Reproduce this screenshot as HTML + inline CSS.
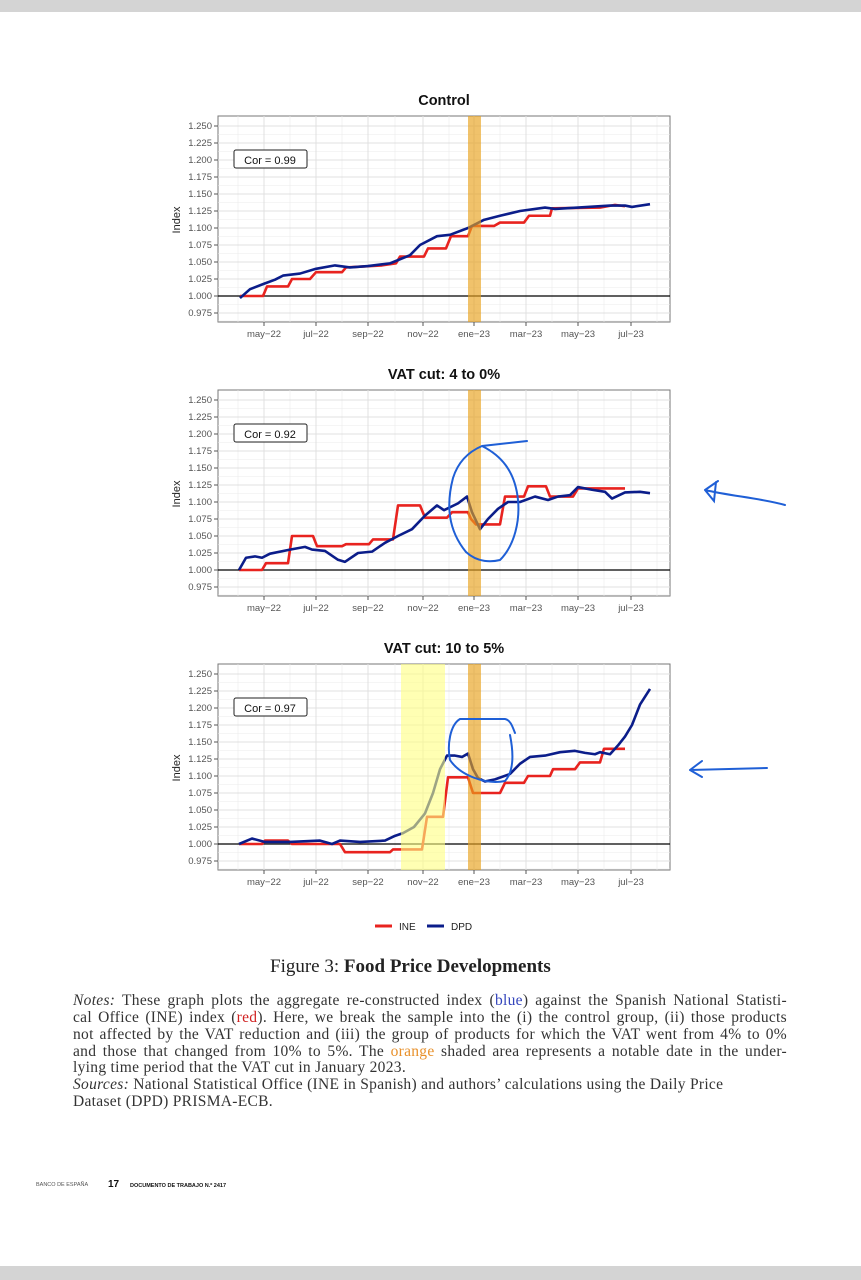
<!DOCTYPE html>
<html><head><meta charset="utf-8"><style>
body{margin:0;width:861px;height:1280px;background:#fff;position:relative;overflow:hidden;font-family:"Liberation Sans",sans-serif}
.n{position:absolute;left:73px;width:714px;font-family:"Liberation Serif",serif;font-size:15.5px;letter-spacing:0.3px;color:#333;line-height:16px;white-space:nowrap}
.j{text-align:justify;text-align-last:justify}
</style></head><body>
<div style="position:absolute;left:0;top:0;width:861px;height:12px;background:#d4d4d4"></div>
<div style="position:absolute;left:0;top:1266px;width:861px;height:14px;background:#d4d4d4"></div>
<svg width="861" height="1280" style="position:absolute;left:0;top:0" font-family="Liberation Sans, sans-serif">
<defs>
<g id="grid">
<rect x="218" y="116" width="452" height="206" fill="#fff" stroke="#777" stroke-width="1"/>
<g stroke="#ececec" stroke-width="0.6">
<path d="M218 134.5H670M218 151.5H670M218 168.5H670M218 185.5H670M218 202.5H670M218 219.5H670M218 236.5H670M218 253.5H670M218 270.5H670M218 287.5H670M218 304.5H670M218 321H670"/>
<path d="M238 116V322M290 116V322M342 116V322M395 116V322M449 116V322M500 116V322M552 116V322M604 116V322M657 116V322"/>
</g>
<g stroke="#e0e0e0" stroke-width="1">
<path d="M218 126H670M218 143H670M218 160H670M218 177H670M218 194H670M218 211H670M218 228H670M218 245H670M218 262H670M218 279H670M218 313H670"/>
<path d="M264 116V322M316 116V322M368 116V322M423 116V322M474 116V322M526 116V322M578 116V322M631 116V322"/>
</g>
<g stroke="#555" stroke-width="1"><path d="M214 126H218M214 143H218M214 160H218M214 177H218M214 194H218M214 211H218M214 228H218M214 245H218M214 262H218M214 279H218M214 296H218M214 313H218M264 322V326M316 322V326M368 322V326M423 322V326M474 322V326M526 322V326M578 322V326M631 322V326"/></g>
<g font-size="9.5" fill="#555" text-anchor="end">
<text x="212" y="129">1.250</text><text x="212" y="146">1.225</text><text x="212" y="163">1.200</text><text x="212" y="180">1.175</text><text x="212" y="197">1.150</text><text x="212" y="214">1.125</text><text x="212" y="231">1.100</text><text x="212" y="248">1.075</text><text x="212" y="265">1.050</text><text x="212" y="282">1.025</text><text x="212" y="299">1.000</text><text x="212" y="316">0.975</text>
</g>
<g font-size="9.5" fill="#555" text-anchor="middle">
<text x="264" y="337">may−22</text><text x="316" y="337">jul−22</text><text x="368" y="337">sep−22</text><text x="423" y="337">nov−22</text><text x="474" y="337">ene−23</text><text x="526" y="337">mar−23</text><text x="578" y="337">may−23</text><text x="631" y="337">jul−23</text>
</g>
<text transform="translate(180,220) rotate(-90)" font-size="11" fill="#222" text-anchor="middle">Index</text>
<line x1="218" y1="296" x2="670" y2="296" stroke="#000" stroke-width="1.3"/>
</g>
</defs>

<use href="#grid"/>
<text x="444" y="105" font-size="14.5" font-weight="bold" text-anchor="middle" fill="#111">Control</text>
<rect x="234" y="150" width="73" height="18" rx="2" fill="#fff" stroke="#222"/>
<text x="270" y="164" font-size="11" text-anchor="middle" fill="#111">Cor = 0.99</text>
<g transform="translate(0,296) scale(1,-680)" fill="none" stroke-linejoin="round">
<polyline vector-effect="non-scaling-stroke" stroke="#e8231f" stroke-width="2.6" points="240,0 263,0 267,0.014 288,0.014 292,0.025 310,0.025 316,0.035 342,0.035 346,0.042 382,0.045 396,0.048 400,0.058 424,0.058 428,0.07 446,0.07 451,0.088 468,0.088 472,0.103 494,0.103 500,0.108 524,0.108 529,0.118 550,0.118 552,0.129 600,0.13 615,0.134 625,0.132"/>
<polyline vector-effect="non-scaling-stroke" stroke="#0b1d8a" stroke-width="2.6" points="240,-0.003 250,0.01 264,0.018 275,0.024 283,0.03 300,0.033 316,0.04 335,0.045 350,0.042 368,0.044 390,0.048 410,0.06 420,0.075 437,0.088 450,0.09 468,0.1 484,0.112 500,0.118 520,0.125 545,0.13 555,0.128 578,0.13 610,0.133 625,0.133 632,0.131 650,0.135"/>
</g>
<rect x="468" y="116" width="13" height="206" fill="#e8a21c" opacity="0.65"/>

<use href="#grid" y="274"/>
<text x="444" y="379" font-size="14.5" font-weight="bold" text-anchor="middle" fill="#111">VAT cut: 4 to 0%</text>
<rect x="234" y="424" width="73" height="18" rx="2" fill="#fff" stroke="#222"/>
<text x="270" y="438" font-size="11" text-anchor="middle" fill="#111">Cor = 0.92</text>
<g transform="translate(0,570) scale(1,-680)" fill="none" stroke-linejoin="round">
<polyline vector-effect="non-scaling-stroke" stroke="#e8231f" stroke-width="2.6" points="239,0 262,0 266,0.01 288,0.01 292,0.05 313,0.05 317,0.035 342,0.035 346,0.038 369,0.038 373,0.045 393,0.045 398,0.095 420,0.095 425,0.077 447,0.077 452,0.085 468,0.085 471,0.075 476,0.067 482,0.067 500,0.067 505,0.108 524,0.108 528,0.123 546,0.123 550,0.108 573,0.108 578,0.12 625,0.12"/>
<polyline vector-effect="non-scaling-stroke" stroke="#0b1d8a" stroke-width="2.6" points="239,0 246,0.018 255,0.02 262,0.018 270,0.024 290,0.03 305,0.034 312,0.03 325,0.028 338,0.015 345,0.012 358,0.025 372,0.027 385,0.04 398,0.05 412,0.06 425,0.08 437,0.095 444,0.088 458,0.098 467,0.108 472,0.085 480,0.06 488,0.075 498,0.09 508,0.1 520,0.1 535,0.108 548,0.103 558,0.108 570,0.11 578,0.122 592,0.118 605,0.115 612,0.105 625,0.114 640,0.115 650,0.113"/>
</g>
<rect x="468" y="390" width="13" height="206" fill="#e8a21c" opacity="0.65"/>
<g fill="none" stroke="#1f5fd6" stroke-width="2" stroke-linecap="round">
<path d="M527 441 L482 446 C468 452 458 462 453 478 C446 505 448 530 466 552 C478 563 492 562 500 560 C515 545 520 520 518 500 C515 470 500 455 482 446"/>
<path d="M785 505 C760 498 730 496 705 490 M705 490 L718 481 M705 490 L714 501 L716 482"/>
<path d="M767 768 L690 770 M690 770 L702 761 M690 770 L702 777"/>
</g>

<use href="#grid" y="548"/>
<text x="444" y="653" font-size="14.5" font-weight="bold" text-anchor="middle" fill="#111">VAT cut: 10 to 5%</text>
<rect x="234" y="698" width="73" height="18" rx="2" fill="#fff" stroke="#222"/>
<text x="270" y="712" font-size="11" text-anchor="middle" fill="#111">Cor = 0.97</text>
<g transform="translate(0,844) scale(1,-680)" fill="none" stroke-linejoin="round">
<polyline vector-effect="non-scaling-stroke" stroke="#e8231f" stroke-width="2.6" points="239,0 262,0 265,0.005 288,0.005 292,0 340,0 345,-0.012 390,-0.012 393,-0.008 422,-0.008 427,0.04 443,0.04 448,0.098 468,0.098 473,0.075 500,0.075 505,0.09 524,0.09 528,0.1 550,0.1 553,0.11 575,0.11 580,0.12 600,0.12 604,0.14 625,0.14"/>
<polyline vector-effect="non-scaling-stroke" stroke="#0b1d8a" stroke-width="2.6" points="239,0 252,0.008 265,0.003 290,0.003 320,0.005 332,0 340,0.005 360,0.003 385,0.005 395,0.012 403,0.016 414,0.025 425,0.045 433,0.075 440,0.11 447,0.13 455,0.13 462,0.128 468,0.133 473,0.11 478,0.097 485,0.092 495,0.095 510,0.103 520,0.118 530,0.128 545,0.13 560,0.135 575,0.137 585,0.134 595,0.132 600,0.135 610,0.132 618,0.145 625,0.158 632,0.175 640,0.205 650,0.228"/>
</g>
<rect x="401" y="664" width="44" height="206" fill="#ffff80" opacity="0.6"/>
<rect x="468" y="664" width="13" height="206" fill="#e8a21c" opacity="0.65"/>
<g fill="none" stroke="#1f5fd6" stroke-width="2" stroke-linecap="round">
<path d="M515 733 C512 725 510 720 505 719 L460 719 C450 725 447 745 450 760 C460 775 485 785 505 781 C515 770 513 750 510 735"/>
</g>

<line x1="375" y1="926" x2="392" y2="926" stroke="#e8231f" stroke-width="3"/>
<text x="399" y="930" font-size="10" fill="#222">INE</text>
<line x1="427" y1="926" x2="444" y2="926" stroke="#0b1d8a" stroke-width="3"/>
<text x="451" y="930" font-size="10" fill="#222">DPD</text>
</svg>

<div style="position:absolute;left:270px;top:956px;font-family:'Liberation Serif',serif;font-size:19px;color:#222;white-space:nowrap">Figure 3: <b>Food Price Developments</b></div>
<div class="n j" style="top:993px"><i>Notes:</i> These graph plots the aggregate re-constructed index (<span style="color:#3344bb">blue</span>) against the Spanish National Statisti-</div>
<div class="n j" style="top:1010px">cal Office (INE) index (<span style="color:#d02020">red</span>). Here, we break the sample into the (i) the control group, (ii) those products</div>
<div class="n j" style="top:1027px">not affected by the VAT reduction and (iii) the group of products for which the VAT went from 4% to 0%</div>
<div class="n j" style="top:1044px">and those that changed from 10% to 5%. The <span style="color:#e8902a">orange</span> shaded area represents a notable date in the under-</div>
<div class="n" style="top:1060px">lying time period that the VAT cut in January 2023.</div>
<div class="n" style="top:1077px"><i>Sources:</i> National Statistical Office (INE in Spanish) and authors’ calculations using the Daily Price</div>
<div class="n" style="top:1094px">Dataset (DPD) PRISMA-ECB.</div>
<div style="position:absolute;left:36px;top:1182px;font-size:5.5px;color:#555">BANCO DE ESPAÑA</div>
<div style="position:absolute;left:108px;top:1179px;font-size:10px;font-weight:bold;color:#111">17</div>
<div style="position:absolute;left:130px;top:1183px;font-size:5.5px;font-weight:bold;color:#111">DOCUMENTO DE TRABAJO N.º 2417</div>
</body></html>
